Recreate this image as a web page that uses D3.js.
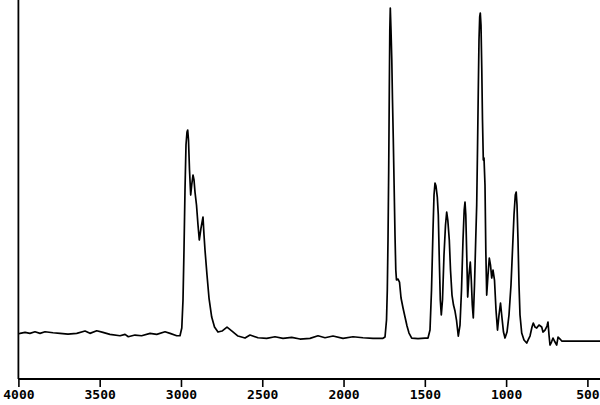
<!DOCTYPE html>
<html>
<head>
<meta charset="utf-8">
<script src="https://cdn.jsdelivr.net/npm/d3@7"></script>
<style>
  html, body { margin: 0; padding: 0; background: #fff; }
  svg { display: block; }
</style>
</head>
<body>
<svg id="chart" width="600" height="405"></svg>
<script>
// Wavenumber (cm-1) and absorbance (% of strongest band)
const wavenumbers = [
  4000, 3990, 3959, 3929, 3898, 3867, 3836, 3787, 3744, 3695, 3641, 3590, 3560, 3518, 3480, 3437,
  3375, 3344, 3324, 3283, 3242, 3190, 3149, 3098, 3067, 3026, 3006, 2995,
  2987.5, 2981.4, 2975.2, 2969.1, 2962.9, 2958.6, 2953.7, 2947.5, 2940.2, 2934.0, 2926.0, 2919.8,
  2913.7, 2904.5, 2895.2, 2887.3, 2876.8, 2864.5, 2858.3, 2852.2, 2839.9, 2827.6, 2811.0, 2793.8,
  2772.2, 2747.6, 2716.8, 2686.1, 2649.2, 2606.1,
  2575.4, 2526.2, 2472.7, 2421.6, 2372.4, 2318.9, 2267.8, 2206.3, 2157.1, 2114.0, 2064.8, 2003.3,
  1941.6, 1880.3, 1818.8, 1757.3,
  1744.9, 1735.7, 1730.8, 1726.5, 1722.2, 1718.5, 1715.4, 1712.4, 1708.1, 1703.2, 1698.9, 1693.9,
  1688.4, 1683.5, 1678.6, 1674.3, 1665.0, 1655.8, 1646.3, 1634.1, 1621.9, 1609.6, 1597.3, 1580.7,
  1542.0, 1498.9, 1480.5,
  1468.2, 1458.9, 1449.7, 1443.5, 1437.4, 1431.3, 1423.3, 1417.1, 1410.9, 1404.8, 1398.7, 1391.3,
  1382.1, 1372.8, 1365.5, 1358.7, 1349.5, 1342.1, 1332.9, 1323.6, 1314.4, 1305.2, 1294.1, 1283.7,
  1274.4, 1265.2, 1257.9, 1252.9, 1248.0, 1242.5, 1236.3, 1228.4, 1220.4, 1214.2, 1208.0, 1201.9,
  1194.5, 1187.0, 1180.9, 1176.0, 1171.1, 1166.8, 1162.5, 1158.8, 1154.5, 1149.6, 1145.3, 1140.3,
  1136.0, 1129.9, 1124.9, 1119.4, 1111.4, 1103.4, 1096.0, 1088.6, 1080.6, 1071.5, 1062.2, 1053.0,
  1043.8, 1034.5, 1025.3, 1016.1, 1006.8, 994.5, 982.3, 970.0, 960.7, 951.5, 943.5, 938.0,
  933.0, 926.9, 920.7, 914.6, 904.1, 890.0, 873.4, 862.3, 853.1, 840.8, 832.8, 822.3,
  811.8, 797.7, 781.1, 773.1, 760.8, 748.5, 742.4, 736.2, 730.1, 720.8, 711.6, 699.3,
  688.9, 680.6, 668.2, 657.8, 420
];
const absorbance = [
  2.25, 2.31, 2.61, 2.31, 2.79, 2.31, 2.79, 2.49, 2.31, 2.10, 2.31, 3.00, 2.31, 3.09, 2.61, 2.01,
  1.59, 2.01, 1.29, 1.80, 1.59, 2.31, 2.01, 2.79, 2.31, 1.59, 1.59, 3.90,
  12.31, 27.33, 45.35, 58.86, 62.76, 63.36, 60.36, 51.35, 43.84, 46.85, 49.85, 48.35,
  44.74, 40.84, 34.83, 30.33, 33.93, 37.24, 31.83, 27.33, 19.82, 12.91, 7.21, 4.20,
  2.70, 3.00, 4.20, 3.00, 1.50, 0.90,
  1.80, 0.99, 0.81, 1.29, 0.81, 1.11, 0.60, 0.81, 1.59, 0.99, 1.50, 0.81,
  1.29, 0.99, 0.81, 0.81,
  1.20, 6.31, 15.32, 30.33, 51.35, 75.38, 93.39, 100.0, 93.39, 84.38, 72.37, 60.36,
  45.35, 31.83, 21.32, 18.32, 18.62, 17.72, 12.91, 9.91, 7.21, 4.50, 2.40, 0.90,
  0.75, 0.90, 0.90,
  3.30, 15.32, 33.33, 43.84, 47.45, 46.55, 43.24, 37.84, 24.32, 12.31, 7.81, 12.31,
  25.83, 34.83, 38.74, 36.34, 30.33, 21.32, 13.81, 10.81, 9.01, 6.31, 1.50, 4.80,
  15.32, 30.33, 39.34, 41.74, 37.84, 26.43, 13.21, 19.82, 23.72, 18.32, 10.81, 6.91,
  16.82, 30.33, 40.84, 57.36, 75.38, 90.39, 97.30, 98.50, 94.89, 81.38, 66.37, 54.35,
  54.95, 46.85, 27.33, 13.81, 19.82, 24.92, 22.82, 18.92, 21.32, 18.32, 9.31, 3.30,
  7.81, 11.41, 6.91, 2.70, 0.90, 2.70, 7.81, 16.82, 27.33, 37.84, 43.84, 44.74,
  40.84, 30.33, 16.82, 7.81, 2.40, 0.30, -0.60, 0.60, 1.50, 4.20, 5.41, 4.20,
  3.90, 4.80, 4.20, 2.70, 3.30, 4.50, 5.71, 1.80, -1.20, -0.30, 0.90, -0.30,
  -1.20, 1.20, 0.60, 0, 0
];
const xTicks = [4000, 3500, 3000, 2500, 2000, 1500, 1000, 500];

(function () {
  const svg = d3.select("#chart");
  const W = 600;
  const padL = 18.4, padR = 587.4, axisY = 379, plotTop = 0;

  const x = d3.scaleLinear().domain([4000, 500]).range([padL, padR]);
  const y = d3.scaleLinear().domain([-11.4, 102.4]).range([axisY, plotTop]);

  const data = wavenumbers.map((w, i) => ({ w, a: absorbance[i] }));

  // spectrum line
  svg.append("path")
    .datum(data)
    .attr("fill", "none")
    .attr("stroke", "#000")
    .attr("stroke-width", 1.7)
    .attr("stroke-linejoin", "round")
    .attr("d", d3.line().x(d => x(d.w)).y(d => y(d.a)));

  // left axis line
  svg.append("line")
    .attr("x1", padL).attr("x2", padL)
    .attr("y1", 0).attr("y2", axisY)
    .attr("stroke", "#000").attr("stroke-width", 1.8);

  // bottom axis
  const xAxis = d3.axisBottom(x)
    .tickValues(xTicks)
    .tickSize(8)
    .tickPadding(3)
    .tickFormat(d3.format("d"));

  const gx = svg.append("g")
    .attr("transform", `translate(0,${axisY})`)
    .call(xAxis);
  gx.select(".domain").remove();
  gx.selectAll(".tick line").attr("stroke", "#000").attr("stroke-width", 1.6);
  gx.selectAll(".tick text")
    .attr("fill", "#000")
    .style("font-family", "'DejaVu Sans Mono', 'Liberation Mono', monospace")
    .style("font-weight", "bold")
    .style("font-size", "13px");

  svg.append("line")
    .attr("x1", padL).attr("x2", W)
    .attr("y1", axisY).attr("y2", axisY)
    .attr("stroke", "#000").attr("stroke-width", 1.8);
})();
</script>
</body>
</html>
